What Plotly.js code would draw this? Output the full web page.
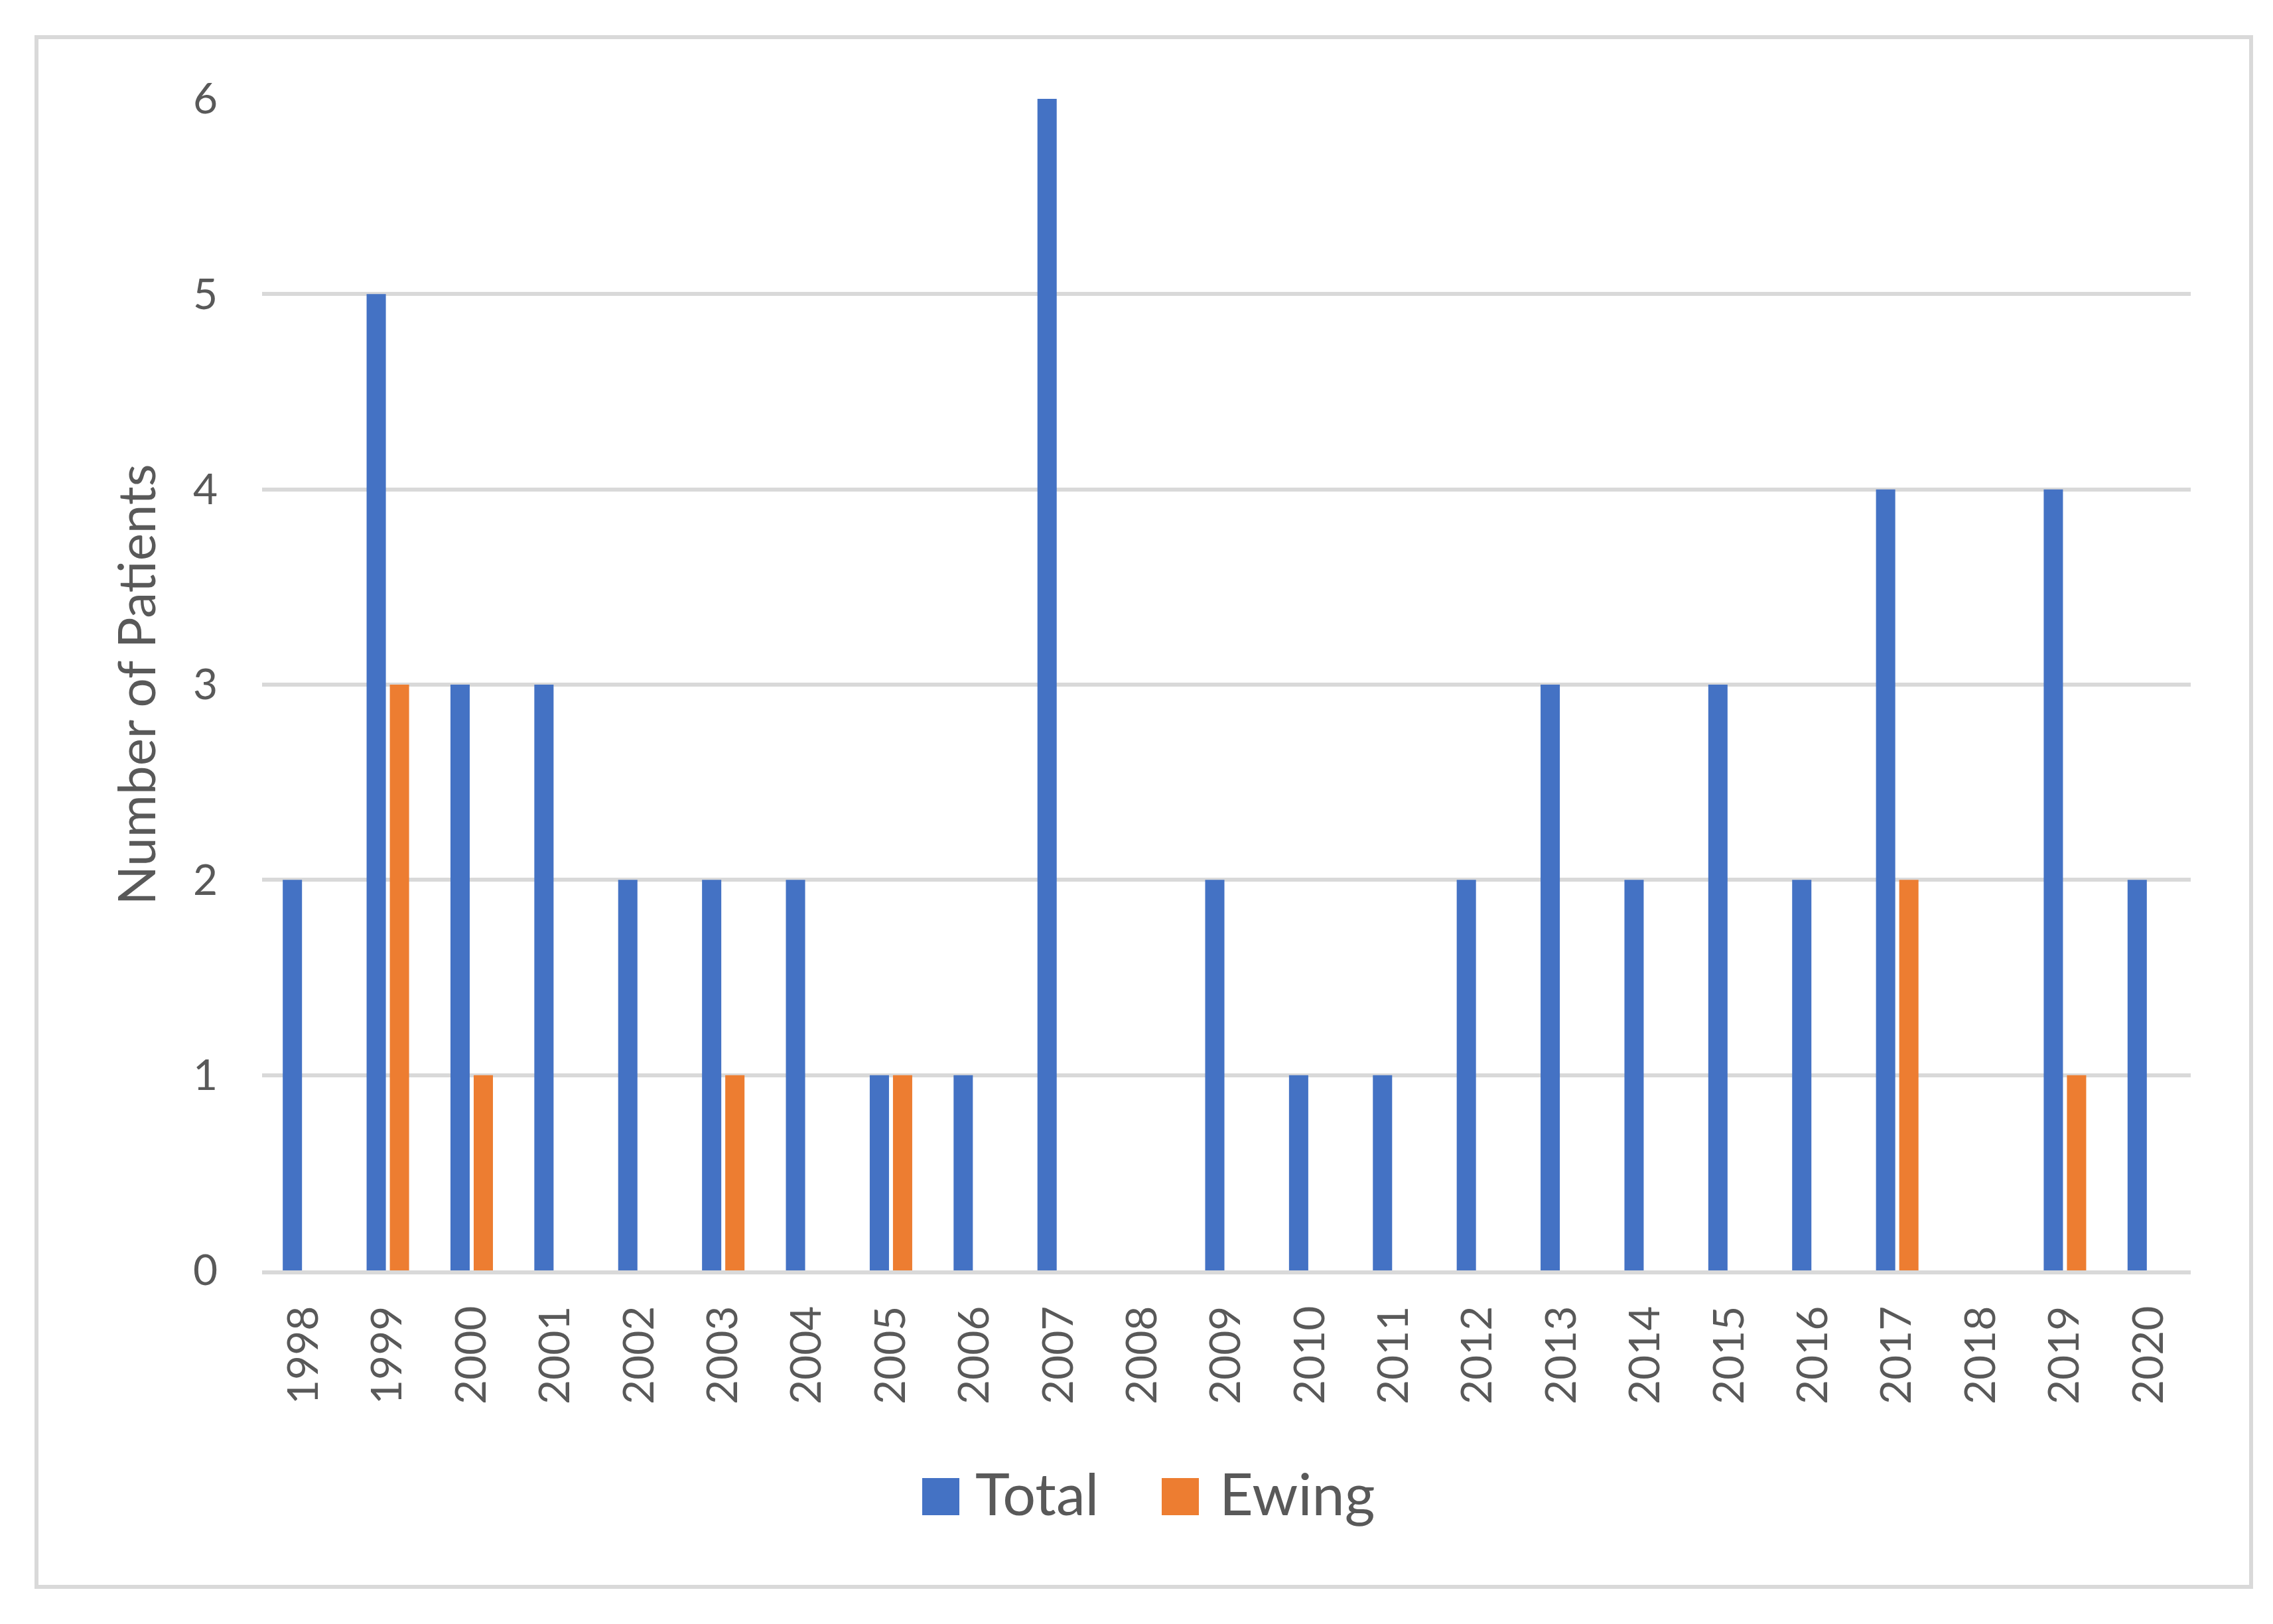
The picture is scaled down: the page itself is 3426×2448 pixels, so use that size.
<!DOCTYPE html>
<html>
<head>
<meta charset="utf-8">
<script src="https://cdn.plot.ly/plotly-3.0.1.min.js"></script>
<style>
  html, body { margin: 0; padding: 0; background: #ffffff; }
  #chart { width: 3426px; height: 2448px; }
</style>
</head>
<body>
<div id="chart"></div>
<script>
const years = ['1998','1999','2000','2001','2002','2003','2004','2005','2006','2007','2008','2009','2010','2011','2012','2013','2014','2015','2016','2017','2018','2019','2020'];
const totalValues = [2,5,3,3,2,2,2,1,1,6,0,2,1,1,2,3,2,3,2,4,0,4,2];
const ewingValues = [0,3,1,0,0,1,0,1,0,0,0,0,0,0,0,0,0,0,0,2,0,1,0];
const yTicks = [0,1,2,3,4,5,6];
const seriesNames = ['Total', 'Ewing'];
const seriesColors = ['#4472C4', '#ED7D31'];

const FONT = 'Lato, "Noto Sans", sans-serif';
const GREY = '#595959';
const W = 3426, H = 2448;
const L = 395, R = 124, T = 149, B = 533;
const pw = W - L - R, ph = H - T - B;
function px2fx(px) { return (px - L) / pw; }
function px2fy(py) { return (H - B - py) / ph; }

const traces = [
  { type: 'bar', name: seriesNames[0], x: years, y: totalValues, marker: { color: seriesColors[0] }, hoverinfo: 'x+y+name' },
  { type: 'bar', name: seriesNames[1], x: years, y: ewingValues, marker: { color: seriesColors[1] }, hoverinfo: 'x+y+name' }
];

// custom legend (large square keys like the reference)
const legendKeys = [
  { sx0: 1390, sx1: 1446, tx: 1468 },
  { sx0: 1751, sx1: 1807, tx: 1836 }
];
const legendShapes = legendKeys.map(function (k, i) {
  return { type: 'rect', xref: 'paper', yref: 'paper',
    x0: px2fx(k.sx0), x1: px2fx(k.sx1), y0: px2fy(2284), y1: px2fy(2228),
    line: { width: 0 }, fillcolor: seriesColors[i] };
});
const legendTexts = legendKeys.map(function (k, i) {
  return { xref: 'paper', yref: 'paper', x: px2fx(k.tx), y: px2fy(2250),
    xanchor: 'left', yanchor: 'middle', showarrow: false, text: seriesNames[i],
    font: { family: FONT, size: 88, color: GREY } };
});

const layout = {
  width: W, height: H,
  margin: { l: L, r: R, t: T, b: B, pad: 0 },
  paper_bgcolor: '#ffffff', plot_bgcolor: '#ffffff',
  font: { family: FONT, color: GREY, size: 64 },
  barmode: 'group',
  bargap: 0.446,
  bargroupgap: 0.171,
  showlegend: false,
  xaxis: {
    type: 'category',
    tickangle: -90,
    tickfont: { family: FONT, size: 64, color: GREY },
    ticks: '',
    ticklabelstandoff: 22,
    showgrid: false,
    showline: true, linecolor: '#d9d9d9', linewidth: 6,
    zeroline: false,
    fixedrange: true
  },
  yaxis: {
    range: [0, 6],
    tickvals: yTicks,
    ticktext: yTicks.map(String),
    tickfont: { family: FONT, size: 64, color: GREY },
    ticks: '',
    ticklabelstandoff: 66,
    showgrid: true, gridcolor: '#d9d9d9', gridwidth: 6,
    showline: false,
    zeroline: false,
    title: { text: 'Number of Patients', font: { family: FONT, size: 78, color: GREY }, standoff: 30 },
    fixedrange: true
  },
  shapes: [
    { type: 'rect', xref: 'paper', yref: 'paper', layer: 'below',
      x0: px2fx(55), x1: px2fx(3393), y0: px2fy(2392), y1: px2fy(56),
      line: { color: '#d9d9d9', width: 6 }, fillcolor: 'rgba(0,0,0,0)' }
  ].concat(legendShapes),
  annotations: legendTexts
};

Plotly.newPlot('chart', traces, layout, { staticPlot: true, displayModeBar: false });
</script>
</body>
</html>
